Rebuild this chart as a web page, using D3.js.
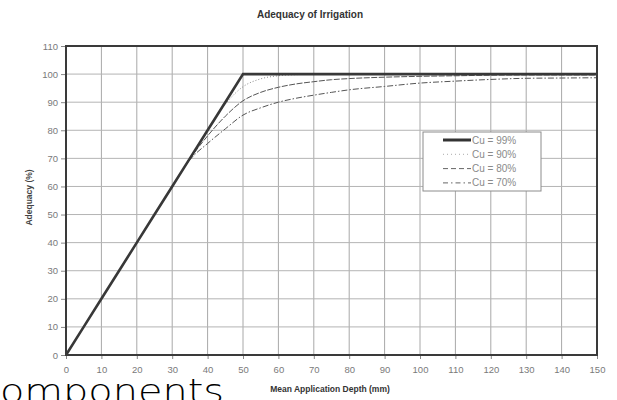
<!DOCTYPE html>
<html>
<head>
<meta charset="utf-8">
<script src="https://cdn.jsdelivr.net/npm/d3@7"></script>
<style>
  body { margin: 0; background: #fff; }
  svg { display: block; }
</style>
</head>
<body>
<div id="chart"></div>
<script>
// mean application depth (mm)
var depths = [0, 5, 10, 15, 20, 25, 30, 35, 40, 45, 50, 55, 60, 65, 70, 75, 80, 90, 100, 110, 120, 130, 140, 150];

// adequacy (%) for each uniformity
var cu99 = [0, 10, 20, 30, 40, 50, 60, 70, 80, 90, 100, 100, 100, 100, 100, 100, 100, 100, 100, 100, 100, 100, 100, 100];
var cu90 = [0, 10, 20, 30, 40, 50, 60, 70, 80, 89.3, 95.5, 98.3, 99.4, 99.8, 100, 100, 100, 100, 100, 100, 100, 100, 100, 100];
var cu80 = [0, 10, 20, 30, 40, 50, 60, 69.8, 78, 85, 90.5, 93.5, 95.3, 96.5, 97.3, 98, 98.4, 98.9, 99.2, 99.4, 99.6, 99.7, 99.7, 99.7];
var cu70 = [0, 10, 20, 30, 40, 50, 60, 69.5, 75.3, 80.5, 85.4, 88, 90, 91.4, 92.5, 93.5, 94.4, 95.6, 96.8, 97.5, 98.1, 98.5, 98.6, 98.7];

var seriesNames = ["Cu = 99%", "Cu = 90%", "Cu = 80%", "Cu = 70%"];
var xTicks = [0, 10, 20, 30, 40, 50, 60, 70, 80, 90, 100, 110, 120, 130, 140, 150];
var yTicks = [0, 10, 20, 30, 40, 50, 60, 70, 80, 90, 100, 110];

var W = 617, H = 400;
var margin = {top: 46, right: 20, bottom: 45, left: 66},
    width = W - margin.left - margin.right,
    height = H - margin.top - margin.bottom;

var svg = d3.select("#chart").append("svg")
    .attr("width", W)
    .attr("height", H)
    .style("font-family", "Arial, 'Liberation Sans', sans-serif");

var g = svg.append("g")
    .attr("transform", "translate(" + margin.left + "," + margin.top + ")");

var x = d3.scaleLinear().domain([0, 150]).range([0, width]);
var y = d3.scaleLinear().domain([0, 110]).range([height, 0]);

// grid
g.append("g").selectAll("line.v")
    .data(xTicks)
    .enter().append("line")
    .attr("x1", function(d) { return x(d); })
    .attr("x2", function(d) { return x(d); })
    .attr("y1", 0).attr("y2", height)
    .attr("stroke", "#a8a8a8").attr("stroke-width", 1);

g.append("g").selectAll("line.h")
    .data(yTicks)
    .enter().append("line")
    .attr("x1", 0).attr("x2", width)
    .attr("y1", function(d) { return y(d); })
    .attr("y2", function(d) { return y(d); })
    .attr("stroke", "#b4b4b4").attr("stroke-width", 1);

// axes
var yAxis = g.append("g")
    .call(d3.axisLeft(y).tickValues(yTicks).tickSize(5).tickPadding(3));
var xAxis = g.append("g")
    .attr("transform", "translate(0," + height + ")")
    .call(d3.axisBottom(x).tickValues(xTicks).tickSize(4).tickPadding(7));

[xAxis, yAxis].forEach(function(a) {
    a.select(".domain").remove();
    a.selectAll(".tick line").attr("stroke", "#888");
    a.selectAll(".tick text")
        .attr("fill", "#7a7a7a")
        .style("font-size", "9.5px")
        .style("font-family", "Arial, 'Liberation Sans', sans-serif");
});

// curves
var styles = [
    {data: cu99, color: "#383838", w: 2.6, dash: null, curve: d3.curveLinear},
    {data: cu90, color: "#8a8a8a", w: 1, dash: "1,2", curve: d3.curveMonotoneX},
    {data: cu80, color: "#555", w: 1, dash: "6,1.5", curve: d3.curveMonotoneX},
    {data: cu70, color: "#555", w: 1, dash: "6,2,1.5,2", curve: d3.curveMonotoneX}
];

styles.slice().reverse().forEach(function(s) {
    var line = d3.line()
        .x(function(d) { return x(d[0]); })
        .y(function(d) { return y(d[1]); })
        .curve(s.curve);
    var pts = depths.map(function(d, i) { return [d, s.data[i]]; });
    g.append("path")
        .datum(pts)
        .attr("d", line)
        .attr("fill", "none")
        .attr("stroke", s.color)
        .attr("stroke-width", s.w)
        .attr("stroke-linejoin", "miter")
        .attr("stroke-dasharray", s.dash);
});

// frame
g.append("rect")
    .attr("x", 0).attr("y", 0)
    .attr("width", width).attr("height", height)
    .attr("fill", "none")
    .attr("stroke", "#3a3a3a")
    .attr("stroke-width", 2);

// legend
var lg = svg.append("g").attr("transform", "translate(423,132)");
lg.append("rect")
    .attr("width", 118).attr("height", 59)
    .attr("fill", "#fff")
    .attr("stroke", "#8c8c8c").attr("stroke-width", 1);

seriesNames.forEach(function(name, i) {
    var yy = 8 + i * 14.3;
    lg.append("line")
        .attr("x1", 20).attr("x2", 48)
        .attr("y1", yy).attr("y2", yy)
        .attr("stroke", i == 0 ? "#333" : (i == 1 ? "#aaa" : "#666"))
        .attr("stroke-width", i == 0 ? 3 : 1)
        .attr("stroke-dasharray", i == 1 ? "1,3" : (i == 2 ? "5,3" : (i == 3 ? "5,3,1.5,3" : null)));
    lg.append("text")
        .attr("x", 49).attr("y", yy + 3.5)
        .attr("fill", "#8a8a8a")
        .style("font-size", "10px")
        .text(name);
});

// titles
svg.append("text")
    .attr("x", 310).attr("y", 18)
    .attr("text-anchor", "middle")
    .style("font-size", "10px")
    .style("font-weight", "bold")
    .attr("fill", "#333")
    .text("Adequacy of Irrigation");

svg.append("text")
    .attr("transform", "translate(32," + (margin.top + height / 2 - 3) + ")rotate(-90)")
    .attr("text-anchor", "middle")
    .style("font-size", "8.5px")
    .style("font-weight", "bold")
    .attr("fill", "#444")
    .text("Adequacy (%)");

svg.append("text")
    .attr("x", 330).attr("y", 392)
    .attr("text-anchor", "middle")
    .style("font-size", "8.5px")
    .style("font-weight", "bold")
    .attr("fill", "#333")
    .text("Mean Application Depth (mm)");

// slide heading fragment below the chart
svg.append("text")
    .attr("x", 0).attr("y", 403)
    .attr("textLength", 224)
    .attr("lengthAdjust", "spacingAndGlyphs")
    .style("font-family", "'DejaVu Sans', sans-serif")
    .style("font-weight", "200")
    .style("font-size", "33px")
    .attr("fill", "#000")
    .text("omponents");
</script>
</body>
</html>
